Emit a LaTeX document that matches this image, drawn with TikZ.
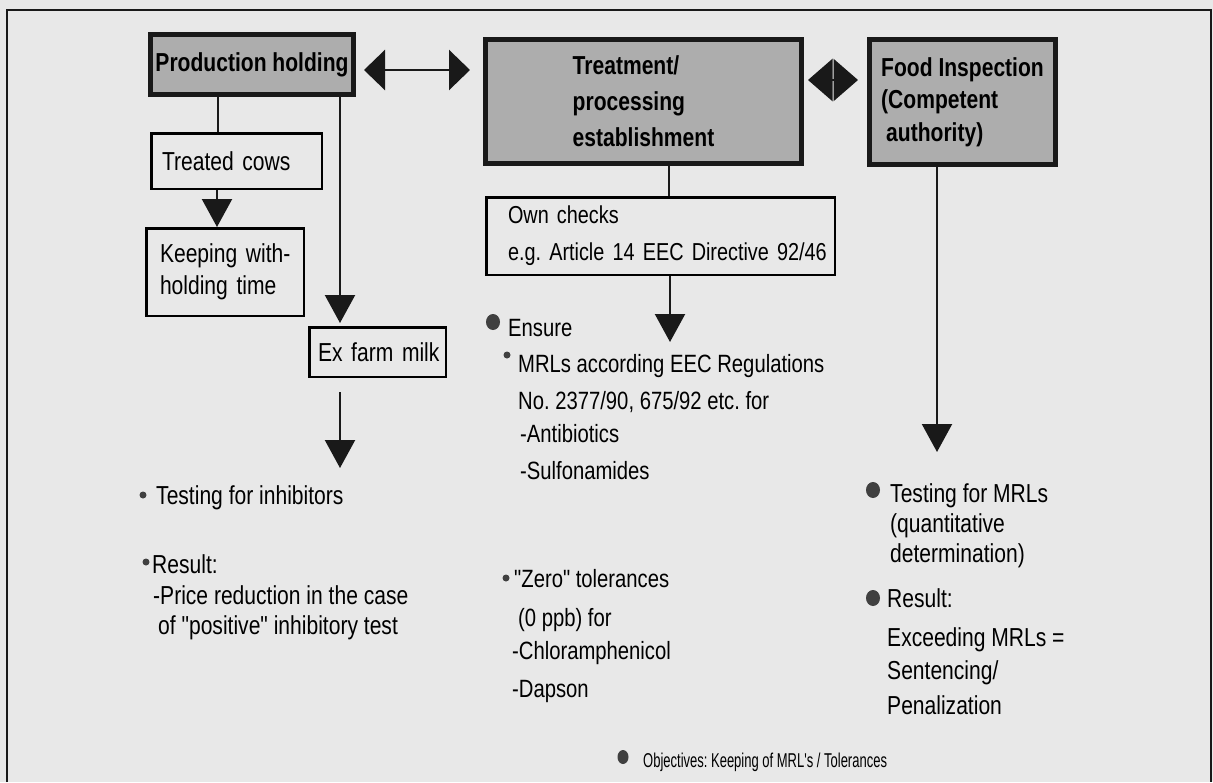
\documentclass[tikz,border=0pt]{standalone}
\usepackage{fontspec}
\newfontfamily\nf[FakeStretch=0.81,Ligatures=TeXOff]{Liberation Sans}
\newfontfamily\smf[FakeStretch=0.65,Ligatures=TeXOff]{Liberation Sans}
\usetikzlibrary{arrows.meta}
\frenchspacing
\begin{document}
\begin{tikzpicture}[x=1pt,y=-1pt,
  hbox/.style={draw=black!90, line width=5pt, fill=black!32, font={\nf\bfseries\fontsize{26}{36}\selectfont}, align=left, inner sep=0pt},
  wbox/.style={draw=black, line width=2.5pt, align=left, inner ysep=0pt, font={\nf\fontsize{26}{32}\selectfont}},
  txt/.style={anchor=base west, inner sep=0pt, font={\nf\fontsize{26}{30}\selectfont}},
  ctxt/.style={txt, font={\nf\fontsize{25}{30}\selectfont}},
  conn/.style={line width=2.2pt, draw=black!90},
  arr/.style={conn, -{Triangle[length=28pt,width=30pt]}, fill=black!85},
  dbl/.style={line width=2.5pt, draw=black!90, fill=black!85, {Triangle[length=21pt,width=40pt]}-{Triangle[length=21pt,width=40pt]}},
  dblb/.style={line width=2.5pt, draw=black!90, fill=black!85, {Triangle[length=24.5pt,width=42pt]}-{Triangle[length=24.5pt,width=42pt]}},
  bul/.style={fill=black!75},
]
\useasboundingbox (0,0) rectangle (1213,782);
\fill[black!9] (0,0) rectangle (1213,782);
\draw[line width=2pt, black!90] (7,782) -- (7,10) -- (1211,10) -- (1211,782);

% heading boxes
\node[hbox, minimum width=203pt, minimum height=60pt] (ph) at (252,64.5) {Production holding};
\node[hbox, minimum width=316pt, minimum height=124pt] (tr) at (643.5,101.5) {Treatment/\\processing\\establishment};
\node[hbox, minimum width=186pt, minimum height=125pt, font={\nf\bfseries\fontsize{26}{32.5}\selectfont}] (fi) at (962.5,102) {Food Inspection\\(Competent\\\hspace*{5pt}authority)};

% white boxes
\node[wbox, text width=149pt, inner xsep=10.75pt, minimum height=55.5pt] (tc) at (236.5,161) {\mbox{Treated cows}};
\node[wbox, text width=130pt, inner xsep=13.75pt, minimum height=87.5pt] (kw) at (225,272) {\mbox{Keeping with-}\\\mbox{holding time}};
\node[wbox, text width=119pt, inner xsep=8.75pt, minimum height=49.5pt] (em) at (377.5,352) {\mbox{Ex farm milk}};
\node[wbox, text width=305pt, inner xsep=21.75pt, minimum height=77.5pt, font={\nf\fontsize{24.5}{37}\selectfont}] (oc) at (660.5,236) {Own checks\\\mbox{e.g. Article 14 EEC Directive 92/46}};

% double arrows
\draw[dbl, shorten <=8pt, shorten >=13pt] ([yshift=-5.5pt]ph.east) -- ([yshift=-5.5pt]ph.east -| tr.west);
\draw[dblb, shorten <=4pt, shorten >=9pt] ([yshift=21.5pt]tr.east) -- ([yshift=21.5pt]tr.east -| fi.west);

% connectors
\coordinate (tin) at (340,468);
\coordinate (ens) at (670,342);
\coordinate (fmr) at (937,452);
\draw[conn] (ph.south -| 218,0) -- (tc.north -| 218,0);
\draw[arr] (tc.south -| 217,0) -- (kw.north -| 217,0);
\draw[arr, shorten >=3pt] (ph.south -| 340,0) -- (em.north -| 340,0);
\draw[arr, shorten <=14pt] (em.south -| tin) -- (tin);
\draw[conn] (tr.south -| 669,0) -- (oc.north -| 669,0);
\draw[arr] (oc.south -| ens) -- (ens);
\draw[arr] (fi.south -| fmr) -- (fmr);

% left column
\fill[bul] (143,495) circle (3.5);
\node[txt] (l1) at (156,504.3) {Testing for inhibitors};
\fill[bul] (146,562) circle (3.5);
\node[txt] (l2) at (152,573.3) {Result:};
\node[txt] (l3) at (153,604.3) {-Price reduction in the case};
\node[txt] (l4) at (158,634.3) {of "positive" inhibitory test};

% centre column
\fill[bul] (493,322) ellipse (7 and 8);
\node[ctxt] (c1) at (508,336) {Ensure};
\fill[bul] (507,355) circle (3.5);
\node[ctxt] (c2) at (518,372) {MRLs according EEC Regulations};
\node[ctxt] (c3) at (518,409) {No. 2377/90, 675/92 etc. for};
\node[ctxt] (c4) at (520,442) {-Antibiotics};
\node[ctxt] (c5) at (520,479) {-Sulfonamides};
\fill[bul] (506,578) circle (3.5);
\node[ctxt] (c6) at (514,587) {"Zero" tolerances};
\node[ctxt] (c7) at (518,626) {(0 ppb) for};
\node[ctxt] (c8) at (512,659) {-Chloramphenicol};
\node[ctxt] (c9) at (512,697) {-Dapson};

% right column
\fill[bul] (873,490) ellipse (7 and 8);
\node[txt] (r1) at (890,502.3) {Testing for MRLs};
\node[txt] (r2) at (890,532.3) {(quantitative};
\node[txt] (r3) at (890,562.3) {determination)};
\fill[bul] (873,598) ellipse (7 and 8);
\node[txt] (r4) at (887,607.3) {Result:};
\node[txt] (r5) at (887,646.3) {Exceeding MRLs =};
\node[txt] (r6) at (887,679.3) {Sentencing/};
\node[txt] (r7) at (887,714.3) {Penalization};

% bottom line
\fill[bul] (623,757) ellipse (5.5 and 7);
\node[anchor=base west, inner sep=0pt, font={\smf\fontsize{20}{24}\selectfont}] (ob) at (643,767.2) {Objectives: Keeping of MRL's / Tolerances};
\end{tikzpicture}
\end{document}
